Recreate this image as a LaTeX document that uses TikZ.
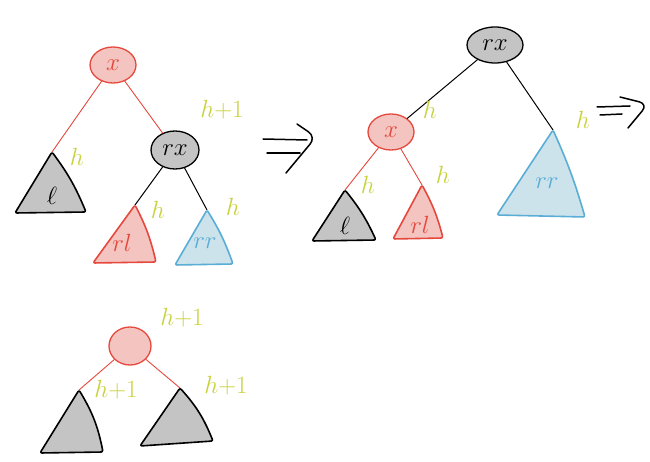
\documentclass[tikz,border=0pt]{standalone}
\usetikzlibrary{positioning,shapes.geometric}
\definecolor{redline}{HTML}{E5483C}
\definecolor{redfill}{HTML}{F4C4C0}
\definecolor{grayfill}{HTML}{C4C4C4}
\definecolor{bluefill}{HTML}{CDE3EC}
\definecolor{blueline}{HTML}{5AADD5}
\definecolor{hcol}{HTML}{C9D23C}
\newcommand{\bigfont}{\fontsize{28}{30}\selectfont}
\begin{document}
\begin{tikzpicture}[x=1pt,y=-1pt,line cap=round,line join=round,
	rednode/.style = {ellipse,draw=redline,fill=redfill,line width=1.3pt,minimum width=46pt,minimum height=36pt,inner sep=0pt,text=redline,font=\bigfont},
	graynode/.style = {ellipse,draw=black,fill=grayfill,line width=1.3pt,minimum width=48pt,minimum height=38pt,inner sep=0pt,font=\bigfont},
	redtri/.style = {draw=redline,fill=redfill,line width=1.6pt,rounded corners=2pt},
	graytri/.style = {draw=black,fill=grayfill,line width=1.6pt,rounded corners=2pt},
	bluetri/.style = {draw=blueline,fill=bluefill,line width=1.6pt,rounded corners=2pt},
	rededge/.style = {redline,line width=0.9pt},
	blackedge/.style = {black,line width=1pt},
	hlabel/.style = {text=hcol,font=\bigfont},
	redtext/.style = {text=redline,font=\bigfont},
	bluetext/.style = {text=blueline,font=\bigfont},
	implies/.style = {line width=1.5pt}]
	\useasboundingbox (0,0) rectangle (650,462);
	% before the rotation
	\node [rednode] (x) at (113,65) {$x$};
	\node [graynode] (rx) at (175,150) {$rx$};
	\coordinate (l) at (52,152);
	\coordinate (rl) at (135,205);
	\coordinate (rr) at (207,210);
	\draw [rededge] (x) -- (l);
	\draw [rededge] (x) -- (rx);
	\draw [blackedge] (rx) -- (rl);
	\draw [blackedge] (rx) -- (rr);
	\filldraw [graytri] (l) to [bend left=7] (86,212) -- (15,213) -- cycle;
	\filldraw [redtri] (rl) to [bend left=7] (156,262) -- (93,263) -- cycle;
	\filldraw [bluetri] (rr) to [bend left=6] (233,264) -- (175,265) -- cycle;
	\node [font=\bigfont] (lname) at (52,196) {$\ell$};
	\node [redtext] (rlname) at (122,243) {$rl$};
	\node [bluetext] (rrname) at (205,243) {$rr$};
	\node [hlabel] (hl) at (77,157) {$h$};
	\node [hlabel] (hrx) at (222,110) {$h{+}1$};
	\node [hlabel] (hrl) at (158,210) {$h$};
	\node [hlabel] (hrr) at (233,207) {$h$};
	\draw [implies] (263,139) -- (307,140);
	\draw [implies] (267,153) -- (300,153);
	\draw [implies,rounded corners=9pt] (297,124) -- (316,137) -- (286,173);
	% after the rotation
	\node [graynode,minimum width=56pt,minimum height=36pt] (rx2) at (495,45) {$rx$};
	\node [rednode] (x2) at (391,132) {$x$};
	\coordinate (l2) at (345,190);
	\coordinate (rl2) at (422,185);
	\coordinate (rr2) at (553,130);
	\draw [blackedge] (rx2) -- (x2);
	\draw [blackedge] (rx2) -- (rr2);
	\draw [rededge] (x2) -- (l2);
	\draw [rededge] (x2) -- (rl2);
	\filldraw [graytri] (l2) to [bend left=7] (376,240) -- (312,241) -- cycle;
	\filldraw [redtri] (rl2) to [bend left=7] (443,238) -- (393,239) -- cycle;
	\filldraw [bluetri] (rr2) to [bend left=4] (585,217) -- (497,215) -- cycle;
	\node [font=\bigfont] (lname2) at (345,226) {$\ell$};
	\node [redtext] (rlname2) at (420,225) {$rl$};
	\node [bluetext] (rrname2) at (547,183) {$rr$};
	\node [hlabel] (hx2) at (430,110) {$h$};
	\node [hlabel] (hrr2) at (583,120) {$h$};
	\node [hlabel] (hl2) at (368,185) {$h$};
	\node [hlabel] (hrl2) at (443,175) {$h$};
	\draw [implies] (597,107) -- (630,106);
	\draw [implies] (600,115) -- (622,114);
	\draw [implies,rounded corners=9pt] (620,97) -- (648,104) -- (628,128);
	% balanced
	\node [rednode,minimum width=42pt,minimum height=38pt] (p) at (130,346) {};
	\coordinate (a) at (79,390);
	\coordinate (b) at (180,388);
	\draw [rededge] (p) -- (a);
	\draw [rededge] (p) -- (b);
	\filldraw [graytri] (a) to [bend left=10] (103,452) -- (40,453) -- cycle;
	\filldraw [graytri] (b) to [bend left=10] (213,441) -- (140,446) -- cycle;
	\node [hlabel] (hp) at (182,318) {$h{+}1$};
	\node [hlabel] (ha) at (116,390) {$h{+}1$};
	\node [hlabel] (hb) at (226,386) {$h{+}1$};
\end{tikzpicture}
\end{document}
